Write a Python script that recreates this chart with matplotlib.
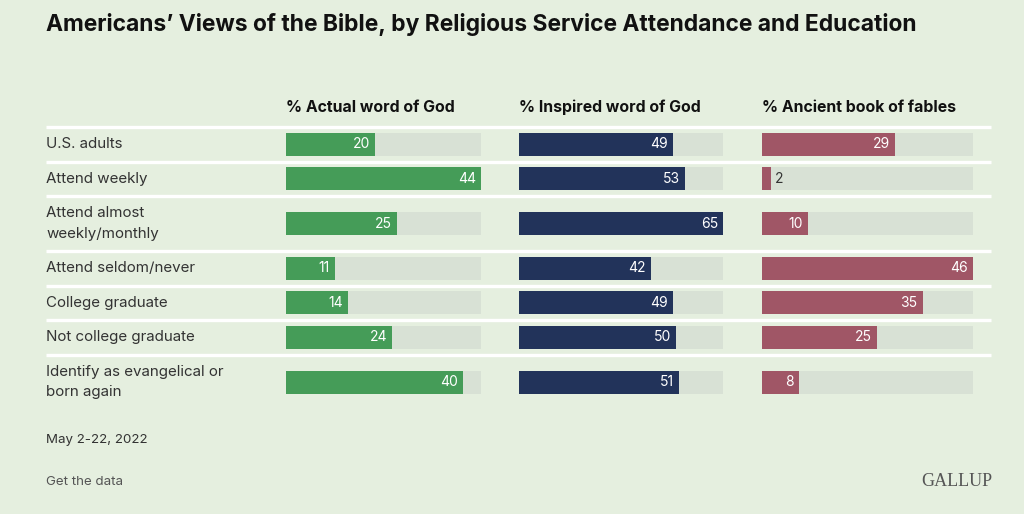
import matplotlib
matplotlib.use("Agg")
import matplotlib.pyplot as plt

plt.rcParams['font.family'] = ['Inter', 'DejaVu Sans']

# ---- data ----
categories = ["U.S. adults", "Attend weekly", "Attend almost\nweekly/monthly",
              "Attend seldom/never", "College graduate", "Not college graduate",
              "Identify as evangelical or\nborn again"]
headers = ["% Actual word of God", "% Inspired word of God", "% Ancient book of fables"]
actual_word = [20, 44, 25, 11, 14, 24, 40]
inspired_word = [49, 53, 65, 42, 49, 50, 51]
ancient_fables = [29, 2, 10, 46, 35, 25, 8]
series = [actual_word, inspired_word, ancient_fables]

title = "Americans\u2019 Views of the Bible, by Religious Service Attendance and Education"
date_note = "May 2-22, 2022"
footer = "Get the data"
brand = "GALLUP"

# ---- style / layout ----
W, H = 1024, 514
BG = "#e5efdf"
TRACK = "#d8e1d5"
COLORS = ["#459c58", "#22335a", "#a05666"]
col_x = [(286, 481), (519, 723), (762, 973)]
top_line = 127
row_h_single, row_h_double = 34.5, 55
bar_h = 23

fig = plt.figure(figsize=(W / 100, H / 100), dpi=100, facecolor=BG)
bg = fig.add_axes([0, 0, 1, 1])
bg.set_xlim(0, W)
bg.set_ylim(H, 0)
bg.axis("off")
bg.set_facecolor(BG)

# row geometry
edges = [top_line]
for c in categories:
    edges.append(edges[-1] + (row_h_double if "\n" in c else row_h_single))
centers = [(edges[i] + edges[i + 1]) / 2 for i in range(len(categories))]

# title & headers
bg.text(46, 31, title, fontsize=16.45, fontweight="bold", color="#111111", va="baseline", ha="left")
for (x0, x1), h in zip(col_x, headers):
    bg.text(x0, 107, h, fontsize=11.4, fontweight="bold", color="#111111", va="center", ha="left")

# separator lines (top of each row)
for y in edges[:-1]:
    bg.plot([46, 991], [y, y], color="white", lw=2.4, solid_capstyle="butt")

# row labels
for c, y in zip(categories, centers):
    bg.text(46, y, c, fontsize=10.9, color="#333333", va="center", ha="left", linespacing=1.6)

# bars per column
for (x0, x1), vals, col in zip(col_x, series, COLORS):
    vmax = max(vals)
    ax = fig.add_axes([x0 / W, 0, (x1 - x0) / W, 1])
    ax.set_xlim(0, vmax)
    ax.set_ylim(H, 0)
    ax.axis("off")
    ax.patch.set_alpha(0)
    ax.barh(centers, [vmax] * len(vals), height=bar_h, color=TRACK, left=0)
    ax.barh(centers, vals, height=bar_h, color=col, left=0)
    for v, y in zip(vals, centers):
        if v / vmax > 0.1:
            ax.annotate(str(v), (v, y), xytext=(-3.5, 0), textcoords="offset points",
                        ha="right", va="center", color="white", fontsize=10)
        else:
            ax.annotate(str(v), (v, y), xytext=(3, 0), textcoords="offset points",
                        ha="left", va="center", color="#333333", fontsize=10)

# footer
bg.text(46, 440, date_note, fontsize=9.6, color="#333333", va="center", ha="left")
bg.text(46, 482, footer, fontsize=9.6, color="#555555", va="center", ha="left")
bg.text(992, 481, brand, fontsize=13, color="#555555", va="center", ha="right",
        family=["Liberation Serif", "DejaVu Serif"])

fig.savefig("out.png", dpi=100, facecolor=BG)
